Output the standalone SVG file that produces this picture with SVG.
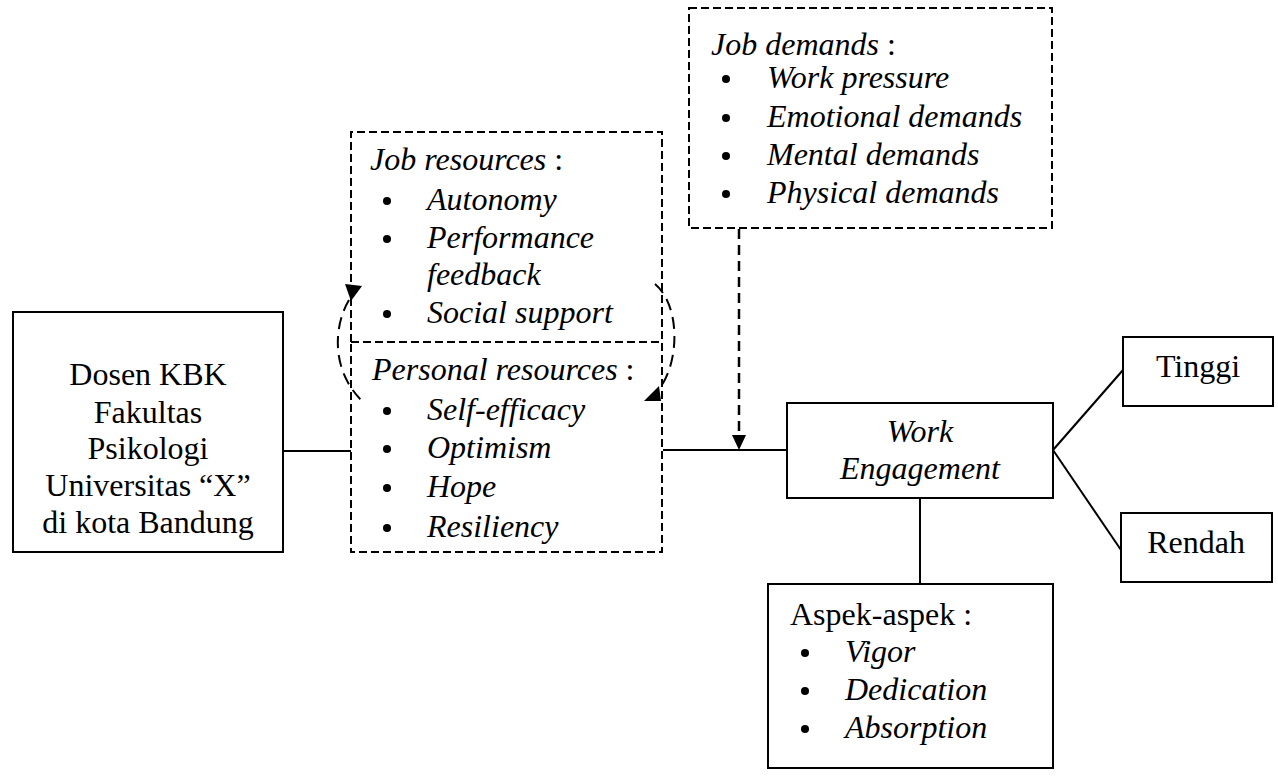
<svg xmlns="http://www.w3.org/2000/svg" width="1278" height="776" viewBox="0 0 1278 776">
  <style>
    .box { fill: #fff; stroke: #000; stroke-width: 2; }
    .dbox { fill: none; stroke: #000; stroke-width: 2; stroke-dasharray: 8 4; }
    .line { fill: none; stroke: #000; stroke-width: 2; }
    .dline { fill: none; stroke: #000; stroke-width: 2.5; stroke-dasharray: 10 6; }
    .arc { fill: none; stroke: #000; stroke-width: 2; stroke-dasharray: 12 7; }
    text { font-family: "Liberation Serif", "Times New Roman", serif; font-size: 32px; fill: #000; }
    .c { text-anchor: middle; }
    .i { font-style: italic; }
    .dot { fill: #000; }
  </style>

  <rect width="1278" height="776" fill="#fff"/>

  <!-- connectors -->
  <g id="connectors">
    <line class="line" x1="283" y1="451" x2="351" y2="451"/>
    <line class="line" x1="663" y1="450" x2="787" y2="450"/>
    <line class="dline" x1="739" y1="229" x2="739" y2="436"/>
    <polygon class="dot" points="732,435 746,435 739,450"/>
    <line class="line" x1="920" y1="498" x2="920" y2="584"/>
    <line class="line" x1="1053" y1="450" x2="1123" y2="370"/>
    <line class="line" x1="1053" y1="450" x2="1121" y2="550"/>
    <!-- reciprocal link between the two resource boxes -->
    <path class="arc" d="M 349,300 C 334,325 330,370 363,402"/>
    <polygon class="dot" points="345,284 362,286 351,301"/>
    <path class="arc" d="M 655,284 C 680,305 680,360 660,388"/>
    <polygon class="dot" points="659,386 661,401 644,401"/>
  </g>

  <g id="job-resources">
    <!-- bottom edge is shared with the personal resources box -->
    <path class="dbox" d="M 351,342 V 132 H 662 V 342"/>
    <text class="i" x="370" y="170">Job resources<tspan font-style="normal"> :</tspan></text>
    <circle class="dot" cx="387" cy="201" r="4"/>
    <text class="i" x="427" y="210">Autonomy</text>
    <circle class="dot" cx="387" cy="239" r="4"/>
    <text class="i" x="427" y="248">Performance</text>
    <text class="i" x="427" y="285">feedback</text>
    <circle class="dot" cx="387" cy="314" r="4"/>
    <text class="i" x="427" y="323">Social support</text>
  </g>

  <g id="personal-resources">
    <rect class="dbox" x="351" y="342" width="311" height="210"/>
    <text class="i" x="372" y="380">Personal resources<tspan font-style="normal"> :</tspan></text>
    <circle class="dot" cx="387" cy="411" r="4"/>
    <text class="i" x="427" y="420">Self-efficacy</text>
    <circle class="dot" cx="387" cy="449" r="4"/>
    <text class="i" x="427" y="458">Optimism</text>
    <circle class="dot" cx="387" cy="488" r="4"/>
    <text class="i" x="427" y="497">Hope</text>
    <circle class="dot" cx="387" cy="528" r="4"/>
    <text class="i" x="427" y="537">Resiliency</text>
  </g>

  <g id="dosen">
    <rect class="box" x="13" y="312" width="270" height="240"/>
    <text class="c" x="148" y="385">Dosen KBK</text>
    <text class="c" x="148" y="423">Fakultas</text>
    <text class="c" x="148" y="459">Psikologi</text>
    <text class="c" x="148" y="496">Universitas “X”</text>
    <text class="c" x="148" y="533">di kota Bandung</text>
  </g>

  <g id="job-demands">
    <rect class="dbox" x="689" y="8" width="363" height="220"/>
    <text class="i" x="711" y="55">Job demands<tspan font-style="normal"> :</tspan></text>
    <circle class="dot" cx="726" cy="79" r="4"/>
    <text class="i" x="767" y="88">Work pressure</text>
    <circle class="dot" cx="726" cy="118" r="4"/>
    <text class="i" x="767" y="127">Emotional demands</text>
    <circle class="dot" cx="726" cy="156" r="4"/>
    <text class="i" x="767" y="165">Mental demands</text>
    <circle class="dot" cx="726" cy="194" r="4"/>
    <text class="i" x="767" y="203">Physical demands</text>
  </g>

  <g id="work-engagement">
    <rect class="box" x="787" y="403" width="266" height="95"/>
    <text class="c i" x="920" y="442">Work</text>
    <text class="c i" x="920" y="479">Engagement</text>
  </g>

  <g id="tinggi">
    <rect class="box" x="1123" y="337" width="150" height="69"/>
    <text class="c" x="1198" y="377">Tinggi</text>
  </g>

  <g id="rendah">
    <rect class="box" x="1121" y="513" width="151" height="69"/>
    <text class="c" x="1196" y="553">Rendah</text>
  </g>

  <g id="aspek">
    <rect class="box" x="768" y="584" width="285" height="184"/>
    <text x="790" y="625">Aspek-aspek :</text>
    <circle class="dot" cx="805" cy="653" r="4"/>
    <text class="i" x="845" y="662">Vigor</text>
    <circle class="dot" cx="805" cy="691" r="4"/>
    <text class="i" x="845" y="700">Dedication</text>
    <circle class="dot" cx="805" cy="729" r="4"/>
    <text class="i" x="845" y="738">Absorption</text>
  </g>
</svg>
